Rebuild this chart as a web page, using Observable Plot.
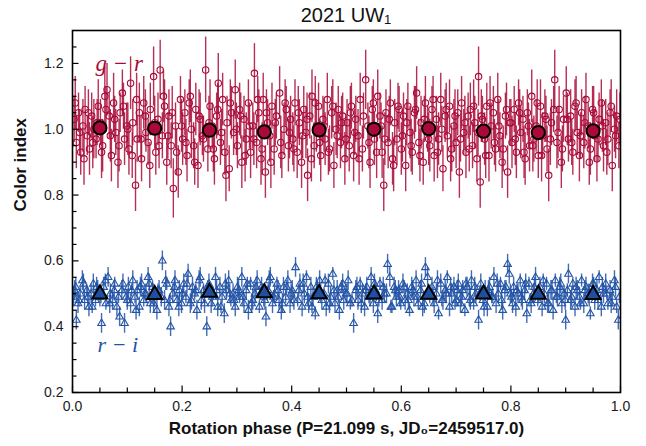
<!DOCTYPE html>
<html>
<head>
<meta charset="utf-8">
<script src="https://cdn.jsdelivr.net/npm/d3@7"></script>
<script src="https://cdn.jsdelivr.net/npm/@observablehq/plot@0.6"></script>
<style>
  html, body { margin: 0; padding: 0; background: #fff; }
  #wrap { position: relative; width: 646px; height: 446px; }
  #wrap svg { position: absolute; left: 0; top: 0; z-index: 0; }
  #title { position: absolute; left: 72px; width: 548px; top: 5px; text-align: center; z-index: 2;
           font-family: "Liberation Sans", Arial, sans-serif; font-size: 20px; line-height: 20px; color: #111; }
  #title sub { font-size: 13px; vertical-align: -2px; line-height: 0; }
</style>
</head>
<body>
<div id="wrap"><div id="title">2021 UW<sub>1</sub></div></div>
<script>
// ---- g − r individual measurements (set 1) ----
const grPhase = [0.003,0.007,0.011,0.015,0.019,0.023,0.027,0.031,0.035,0.039,0.043,0.047,0.051,0.055,0.059,0.063,0.067,0.071,0.075,0.079,0.083,0.087,0.091,0.095,0.099,
0.103,0.106,0.110,0.115,0.118,0.122,0.126,0.130,0.134,0.138,0.142,0.148,0.152,0.156,0.160,0.164,0.168,0.172,0.176,0.180,0.184,0.188,0.193,0.197,
0.201,0.205,0.209,0.213,0.217,0.221,0.225,0.229,0.233,0.237,0.243,0.247,0.251,0.255,0.259,0.263,0.266,0.270,0.274,0.278,0.282,0.286,0.290,0.294,0.297,
0.301,0.305,0.309,0.313,0.317,0.321,0.325,0.329,0.332,0.336,0.340,0.344,0.348,0.352,0.356,0.360,0.364,0.368,0.372,0.378,0.382,0.386,0.390,0.394,0.398,
0.402,0.406,0.410,0.414,0.418,0.422,0.426,0.429,0.433,0.437,0.441,0.445,0.449,0.453,0.457,0.461,0.465,0.469,0.473,0.477,0.481,0.485,0.489,0.493,0.497,
0.501,0.505,0.509,0.513,0.517,0.521,0.525,0.529,0.535,0.539,0.543,0.547,0.551,0.557,0.561,0.565,0.568,0.572,0.576,0.580,0.584,0.588,0.592,0.596,
0.600,0.604,0.608,0.612,0.616,0.620,0.624,0.628,0.632,0.636,0.640,0.644,0.648,0.652,0.656,0.660,0.664,0.668,0.672,0.676,0.680,0.684,0.688,0.692,0.696,
0.700,0.703,0.706,0.710,0.714,0.718,0.722,0.726,0.730,0.734,0.738,0.741,0.744,0.748,0.752,0.756,0.760,0.764,0.768,0.772,0.776,0.780,0.784,0.790,0.794,0.798,
0.802,0.806,0.810,0.814,0.818,0.822,0.826,0.830,0.834,0.838,0.842,0.846,0.850,0.854,0.858,0.862,0.866,0.869,0.874,0.880,0.884,0.888,0.892,0.896,
0.901,0.905,0.909,0.913,0.917,0.921,0.925,0.929,0.933,0.937,0.941,0.945,0.949,0.953,0.957,0.961,0.965,0.969,0.973,0.977,0.981,0.985,0.989,0.993,0.997];
const grValue = [1.03,0.96,1.05,0.93,1.01,1.06,0.98,0.94,1.04,1.00,0.97,1.07,1.02,0.95,1.10,1.12,1.04,0.92,1.08,0.99,0.90,1.05,1.11,0.97,1.01,
0.94,1.14,1.02,0.83,0.97,1.05,0.91,1.08,0.99,0.96,1.06,1.16,0.93,1.03,1.18,0.98,1.07,0.90,1.04,0.95,0.82,1.01,0.87,1.09,
0.97,1.05,0.92,1.08,1.00,0.95,1.06,0.89,1.03,0.98,1.18,0.94,1.07,1.01,0.91,1.04,1.14,0.96,1.09,0.93,1.02,0.88,1.05,0.99,1.12,
0.95,1.06,0.90,1.03,0.97,1.08,0.93,1.01,1.17,0.96,1.05,0.91,1.09,0.87,1.02,0.98,1.07,0.94,1.04,1.11,0.92,1.00,1.06,0.95,1.03,
0.97,1.08,0.93,1.02,0.90,1.06,0.99,0.86,1.04,1.10,0.95,1.01,1.07,0.92,1.03,0.97,1.09,0.94,1.05,0.89,1.00,1.06,0.96,1.04,0.91,
1.02,0.95,1.07,0.92,1.03,0.98,1.09,0.94,1.15,1.01,0.90,1.06,0.97,1.10,1.04,0.93,0.83,1.05,0.96,1.08,0.91,1.02,0.97,1.06,
0.94,1.04,0.89,1.07,0.99,0.93,1.05,1.11,0.96,1.02,0.90,1.08,1.00,0.95,1.06,0.92,1.03,0.97,1.09,0.88,1.04,0.98,1.07,0.94,1.01,
0.96,1.05,0.87,1.08,0.99,0.93,1.04,1.06,0.95,1.02,0.91,1.16,0.84,1.03,0.97,1.07,0.92,1.01,1.05,0.94,1.09,0.98,0.90,1.04,0.87,1.02,
0.96,1.06,0.93,1.08,0.99,1.03,0.91,1.05,0.95,1.10,0.97,1.01,0.92,1.07,0.98,1.04,0.94,0.86,1.02,1.15,0.96,1.06,0.90,1.03,
1.11,0.97,1.04,0.93,1.07,0.99,0.92,1.05,0.96,1.09,1.01,0.94,1.06,0.98,0.91,1.03,1.08,0.95,1.02,0.97,1.05,0.89,1.00,1.04,0.95];
const grError = [.07,.08,.06,.07,.08,.07,.06,.08,.07,.09,.06,.08,.07,.08,.09,.08,.07,.08,.09,.07,.08,.06,.07,.08,.07,
.08,.08,.07,.08,.07,.09,.07,.08,.06,.07,.08,.09,.07,.08,.09,.07,.08,.07,.08,.07,.09,.07,.08,.07,
.08,.07,.08,.07,.09,.07,.08,.07,.08,.06,.10,.07,.08,.07,.08,.07,.09,.07,.08,.07,.08,.07,.08,.07,.09,
.07,.08,.08,.07,.08,.07,.08,.07,.09,.08,.07,.08,.08,.08,.07,.08,.07,.08,.07,.08,.07,.08,.07,.08,.07,
.08,.07,.08,.07,.08,.07,.08,.08,.07,.08,.07,.08,.07,.08,.07,.08,.08,.07,.08,.07,.08,.07,.08,.07,.08,
.07,.08,.07,.08,.07,.08,.08,.07,.09,.07,.08,.07,.08,.08,.07,.08,.08,.07,.08,.07,.08,.07,.08,.07,
.08,.07,.08,.07,.08,.07,.08,.08,.07,.08,.07,.08,.07,.08,.07,.08,.07,.08,.08,.07,.08,.07,.08,.07,.08,
.08,.07,.08,.08,.07,.08,.07,.08,.07,.08,.07,.09,.08,.07,.08,.07,.08,.07,.08,.07,.08,.07,.08,.07,.08,.07,
.08,.07,.08,.07,.08,.07,.08,.07,.08,.08,.07,.08,.07,.08,.07,.08,.07,.08,.07,.09,.08,.07,.08,.07,
.08,.07,.08,.07,.08,.07,.08,.07,.08,.08,.07,.08,.07,.08,.07,.08,.07,.08,.07,.08,.07,.08,.07,.08,.07];

// ---- g − r individual measurements (set 2) ----
const grPhase2 = [0.005,0.013,0.021,0.029,0.037,0.045,0.053,0.061,0.069,0.077,0.085,0.093,
0.101,0.109,0.117,0.125,0.133,0.141,0.150,0.158,0.166,0.174,0.182,0.190,
0.199,0.207,0.215,0.223,0.231,0.239,0.249,0.257,0.265,0.272,0.280,0.288,
0.299,0.307,0.315,0.323,0.331,0.338,0.346,0.354,0.362,0.370,0.380,0.388,0.396,
0.404,0.412,0.420,0.428,0.436,0.443,0.451,0.459,0.467,0.475,0.483,0.491,
0.499,0.507,0.515,0.523,0.531,0.541,0.549,0.555,0.563,0.570,0.578,0.586,0.594,
0.602,0.610,0.618,0.626,0.634,0.642,0.650,0.658,0.666,0.674,0.682,0.690,0.698,
0.708,0.716,0.724,0.732,0.740,0.746,0.754,0.762,0.770,0.778,0.786,0.792,
0.800,0.808,0.816,0.824,0.832,0.840,0.848,0.856,0.864,0.872,0.878,0.886,0.894,
0.903,0.911,0.919,0.927,0.935,0.943,0.951,0.959,0.967,0.975,0.983,0.991,0.999];
const grValue2 = [1.08,0.99,0.91,1.05,0.96,1.02,0.93,1.06,0.98,1.03,0.95,1.07,
1.00,0.92,1.09,0.97,1.04,0.89,1.02,0.95,1.10,0.98,1.05,0.93,
1.01,0.96,1.10,0.90,1.04,0.97,1.02,0.94,1.06,0.99,0.86,1.08,
1.00,1.04,0.92,1.01,0.97,1.09,0.94,1.05,0.90,1.02,0.96,1.08,0.99,
0.94,1.05,0.98,1.03,0.91,1.08,0.96,1.01,0.93,1.07,0.98,1.02,
0.97,1.05,0.99,0.91,1.04,0.96,1.08,0.93,1.01,0.97,1.03,0.89,1.07,
0.98,1.02,0.95,1.06,0.92,1.03,0.97,1.09,0.93,1.00,1.06,0.91,1.04,
0.97,1.02,0.94,1.07,0.99,1.04,0.92,1.08,0.96,1.01,0.94,1.06,
1.02,0.97,1.05,0.93,1.01,0.95,1.08,0.92,1.03,0.97,1.06,0.99,0.94,
1.03,0.96,1.08,0.98,1.02,0.90,1.05,0.97,1.01,0.93,1.07,0.98,1.03];
const grError2 = [.08,.07,.08,.07,.08,.07,.08,.07,.08,.07,.08,.07,
.08,.07,.08,.07,.08,.07,.08,.07,.08,.07,.08,.07,
.08,.07,.08,.07,.08,.07,.08,.07,.08,.07,.08,.07,
.08,.07,.08,.07,.08,.07,.08,.07,.08,.07,.08,.07,.08,
.07,.08,.07,.08,.07,.08,.07,.08,.07,.08,.07,.08,
.07,.08,.07,.08,.07,.08,.07,.08,.07,.08,.07,.08,.07,
.08,.07,.08,.07,.08,.07,.08,.07,.08,.07,.08,.07,.08,
.07,.08,.07,.08,.07,.08,.07,.08,.07,.08,.07,.08,
.07,.08,.07,.08,.07,.08,.07,.08,.07,.08,.07,.08,.07,
.08,.07,.08,.07,.08,.07,.08,.07,.08,.07,.08,.07,.08];

// ---- r − i individual measurements (set 1) ----
const riPhase = [0.002,0.006,0.010,0.007,0.014,0.018,0.022,0.026,0.030,0.034,0.038,0.042,0.046,0.050,0.053,0.057,0.061,0.065,0.069,0.073,0.077,0.081,0.086,0.090,0.095,0.098,
0.102,0.106,0.110,0.114,0.118,0.122,0.126,0.130,0.134,0.138,0.142,0.146,0.150,0.154,0.158,0.164,0.168,0.172,0.176,0.179,0.183,0.187,0.191,0.195,0.199,
0.203,0.207,0.211,0.215,0.219,0.223,0.227,0.231,0.235,0.239,0.245,0.249,0.253,0.257,0.261,0.265,0.269,0.273,0.277,0.281,0.285,0.289,0.293,0.297,
0.301,0.305,0.309,0.313,0.317,0.321,0.325,0.329,0.333,0.337,0.341,0.345,0.349,0.353,0.357,0.361,0.365,0.369,0.373,0.377,0.381,0.385,0.389,0.393,0.397,
0.401,0.407,0.411,0.415,0.419,0.423,0.427,0.431,0.435,0.439,0.443,0.447,0.451,0.455,0.459,0.463,0.467,0.471,0.475,0.479,0.483,0.487,0.491,0.495,0.499,
0.503,0.507,0.513,0.517,0.521,0.525,0.529,0.533,0.537,0.541,0.545,0.549,0.553,0.557,0.561,0.565,0.569,0.575,0.579,0.583,0.587,0.591,0.595,0.599,
0.603,0.607,0.611,0.615,0.619,0.623,0.627,0.631,0.635,0.639,0.644,0.648,0.652,0.656,0.660,0.664,0.668,0.672,0.676,0.680,0.684,0.688,0.692,0.696,
0.700,0.704,0.708,0.712,0.716,0.720,0.724,0.728,0.732,0.736,0.741,0.745,0.749,0.753,0.757,0.761,0.765,0.769,0.773,0.777,0.781,0.785,0.789,0.794,0.797,
0.801,0.805,0.809,0.813,0.817,0.821,0.825,0.829,0.833,0.837,0.841,0.845,0.849,0.853,0.857,0.861,0.865,0.869,0.873,0.877,0.881,0.885,0.889,0.893,0.897,
0.900,0.905,0.909,0.913,0.917,0.921,0.925,0.929,0.933,0.937,0.941,0.945,0.949,0.953,0.957,0.961,0.965,0.969,0.973,0.977,0.981,0.985,0.989,0.993,0.996];
const riValue = [0.49,0.52,0.47,0.42,0.50,0.54,0.48,0.51,0.46,0.50,0.53,0.48,0.51,0.49,0.41,0.52,0.47,0.55,0.50,0.48,0.53,0.46,0.43,0.51,0.41,0.49,
0.52,0.47,0.54,0.49,0.51,0.46,0.53,0.48,0.50,0.55,0.47,0.52,0.49,0.45,0.51,0.60,0.48,0.53,0.46,0.40,0.50,0.54,0.48,0.51,0.47,
0.53,0.49,0.56,0.47,0.52,0.50,0.45,0.54,0.48,0.51,0.40,0.53,0.47,0.50,0.55,0.46,0.52,0.49,0.44,0.51,0.54,0.48,0.50,0.46,
0.52,0.49,0.55,0.47,0.51,0.45,0.53,0.48,0.50,0.54,0.46,0.52,0.49,0.43,0.51,0.55,0.47,0.50,0.53,0.48,0.45,0.52,0.49,0.54,0.47,
0.51,0.58,0.48,0.53,0.46,0.50,0.55,0.47,0.52,0.49,0.44,0.51,0.54,0.48,0.50,0.46,0.53,0.49,0.56,0.47,0.51,0.45,0.52,0.48,0.50,
0.54,0.47,0.41,0.51,0.48,0.53,0.50,0.46,0.52,0.49,0.55,0.47,0.51,0.44,0.53,0.48,0.50,0.59,0.55,0.46,0.52,0.49,0.51,0.47,
0.53,0.48,0.50,0.45,0.52,0.49,0.54,0.47,0.51,0.46,0.58,0.55,0.49,0.52,0.47,0.50,0.44,0.53,0.48,0.51,0.55,0.46,0.50,0.52,
0.48,0.53,0.47,0.51,0.45,0.52,0.49,0.54,0.47,0.50,0.42,0.53,0.48,0.51,0.46,0.52,0.49,0.55,0.47,0.50,0.53,0.45,0.51,0.59,0.56,
0.49,0.52,0.46,0.50,0.54,0.48,0.51,0.44,0.53,0.47,0.50,0.55,0.48,0.52,0.46,0.50,0.53,0.47,0.51,0.45,0.54,0.49,0.52,0.47,0.50,
0.42,0.56,0.48,0.53,0.46,0.51,0.49,0.54,0.47,0.52,0.50,0.44,0.53,0.48,0.51,0.55,0.46,0.50,0.53,0.47,0.51,0.49,0.54,0.46,0.42];
const riError = [.03,.03,.03,.03,.02,.03,.03,.02,.03,.03,.03,.02,.03,.03,.03,.03,.02,.03,.03,.03,.02,.03,.03,.03,.03,.02,
.03,.03,.03,.02,.03,.03,.03,.02,.03,.03,.03,.02,.03,.03,.03,.03,.03,.02,.03,.03,.03,.03,.02,.03,.03,
.03,.02,.03,.03,.03,.02,.03,.03,.03,.02,.03,.03,.03,.02,.03,.03,.03,.02,.03,.03,.03,.02,.03,.03,
.03,.02,.03,.03,.03,.03,.02,.03,.03,.03,.02,.03,.03,.03,.02,.03,.03,.03,.02,.03,.03,.03,.02,.03,.03,
.03,.03,.02,.03,.03,.03,.02,.03,.03,.03,.02,.03,.03,.03,.02,.03,.03,.03,.02,.03,.03,.03,.02,.03,.03,
.03,.02,.03,.03,.03,.02,.03,.03,.03,.02,.03,.03,.03,.03,.02,.03,.03,.03,.03,.02,.03,.03,.03,.02,
.03,.03,.03,.02,.03,.03,.03,.02,.03,.03,.03,.03,.02,.03,.03,.03,.02,.03,.03,.03,.02,.03,.03,.03,
.02,.03,.03,.03,.02,.03,.03,.03,.02,.03,.03,.03,.02,.03,.03,.03,.02,.03,.03,.03,.02,.03,.03,.03,.03,
.02,.03,.03,.03,.02,.03,.03,.03,.02,.03,.03,.03,.02,.03,.03,.03,.02,.03,.03,.03,.02,.03,.03,.03,.02,
.03,.03,.03,.02,.03,.03,.03,.02,.03,.03,.03,.02,.03,.03,.03,.02,.03,.03,.03,.02,.03,.03,.03,.02,.03];

// ---- r − i individual measurements (set 2) ----
const riPhase2 = [0.004,0.012,0.020,0.028,0.036,0.044,0.052,0.060,0.068,0.076,0.084,0.092,
0.100,0.108,0.116,0.124,0.132,0.140,0.148,0.156,0.162,0.170,0.178,0.186,0.194,
0.201,0.209,0.217,0.225,0.233,0.241,0.247,0.255,0.263,0.271,0.279,0.287,0.295,
0.303,0.311,0.319,0.327,0.335,0.343,0.351,0.359,0.367,0.375,0.383,0.391,0.399,
0.404,0.413,0.421,0.429,0.437,0.445,0.453,0.461,0.469,0.477,0.485,0.493,
0.501,0.510,0.519,0.527,0.535,0.543,0.551,0.559,0.567,0.573,0.581,0.589,0.597,
0.605,0.613,0.621,0.629,0.637,0.642,0.650,0.658,0.666,0.674,0.682,0.690,0.698,
0.702,0.710,0.718,0.726,0.734,0.743,0.751,0.759,0.767,0.775,0.783,0.791,0.799,
0.803,0.811,0.819,0.827,0.835,0.843,0.851,0.859,0.867,0.875,0.883,0.891,0.899,
0.903,0.911,0.919,0.927,0.935,0.943,0.951,0.959,0.967,0.975,0.983,0.991,0.998];
const riValue2 = [0.51,0.48,0.53,0.49,0.46,0.52,0.50,0.54,0.47,0.51,0.49,0.53,
0.48,0.51,0.45,0.52,0.50,0.53,0.47,0.51,0.49,0.54,0.48,0.52,0.46,
0.50,0.53,0.48,0.51,0.55,0.47,0.52,0.49,0.51,0.46,0.53,0.50,0.48,
0.51,0.49,0.53,0.47,0.52,0.50,0.48,0.54,0.49,0.51,0.47,0.52,0.50,
0.48,0.51,0.53,0.49,0.46,0.52,0.50,0.54,0.47,0.51,0.49,0.53,
0.50,0.48,0.52,0.47,0.51,0.49,0.53,0.48,0.52,0.50,0.46,0.51,0.49,
0.52,0.48,0.51,0.49,0.53,0.47,0.51,0.49,0.54,0.48,0.50,0.52,0.47,
0.51,0.49,0.53,0.48,0.52,0.50,0.46,0.51,0.49,0.53,0.48,0.52,0.50,
0.47,0.51,0.49,0.53,0.48,0.52,0.50,0.54,0.47,0.51,0.49,0.53,0.48,
0.51,0.49,0.52,0.47,0.51,0.49,0.53,0.48,0.52,0.50,0.47,0.52,0.49];
const riError2 = [.03,.02,.03,.03,.02,.03,.03,.02,.03,.03,.02,.03,
.03,.02,.03,.03,.02,.03,.03,.02,.03,.03,.02,.03,.03,
.02,.03,.03,.02,.03,.03,.02,.03,.03,.02,.03,.03,.02,
.03,.03,.02,.03,.03,.02,.03,.03,.02,.03,.03,.02,.03,
.03,.02,.03,.03,.02,.03,.03,.02,.03,.03,.02,.03,
.03,.02,.03,.03,.02,.03,.03,.02,.03,.03,.02,.03,.03,
.02,.03,.03,.02,.03,.03,.02,.03,.03,.02,.03,.03,.02,
.03,.03,.02,.03,.03,.02,.03,.03,.02,.03,.03,.02,.03,
.03,.02,.03,.03,.02,.03,.03,.02,.03,.03,.02,.03,.03,
.02,.03,.03,.02,.03,.03,.02,.03,.03,.02,.03,.03,.02];

// ---- binned means ----
const binPhase = [0.05,0.15,0.25,0.35,0.45,0.55,0.65,0.75,0.85,0.95];
const grBinMean = [1.004,1.003,0.997,0.992,0.998,1.000,1.002,0.994,0.990,0.995];
const riBinMean = [0.499,0.497,0.504,0.503,0.500,0.499,0.498,0.499,0.498,0.497];

// ---- axes / text ----
const xMajorTicks = [0.0,0.2,0.4,0.6,0.8,1.0];
const xMinorTicks = [0.05,0.1,0.15,0.25,0.3,0.35,0.45,0.5,0.55,0.65,0.7,0.75,0.85,0.9,0.95];
const yMajorTicks = [0.2,0.4,0.6,0.8,1.0,1.2];
const yMinorTicks = [0.25,0.3,0.35,0.45,0.5,0.55,0.65,0.7,0.75,0.85,0.9,0.95,1.05,1.1,1.15,1.25];
const xLabel = ["Rotation phase (P=21.099 s, JD\u2080=2459517.0)"];
const yLabel = ["Color index"];
const grName = ["g \u2212 r"];
const riName = ["r \u2212 i"];

const mk = (P, V, E) => P.map((p, i) => ({phase: p, v: V[i], e: E[i]}));
const gr = mk(grPhase, grValue, grError).concat(mk(grPhase2, grValue2, grError2));
const ri = mk(riPhase, riValue, riError).concat(mk(riPhase2, riValue2, riError2));
const grBins = binPhase.map((p, i) => ({phase: p, v: grBinMean[i]}));
const riBins = binPhase.map((p, i) => ({phase: p, v: riBinMean[i]}));

const RED = "#a90a38", BLUE = "#2253a6", BLUEFILL = "#1f50a0";
const W = 646, H = 446, ML = 72, MR = 26, MT = 30, MB = 54;
const PW = W - ML - MR, PH = H - MT - MB;

const chart = Plot.plot({
  width: W, height: H,
  marginLeft: ML, marginRight: MR, marginTop: MT, marginBottom: MB,
  style: {fontFamily: "'Liberation Sans', Arial, sans-serif", fontSize: "14px", color: "#1a1a1a", background: "white"},
  x: {domain: [0, 1]},
  y: {domain: [0.2, 1.3]},
  marks: [
    Plot.ruleX(gr, {x: "phase", y1: d => d.v - d.e, y2: d => d.v + d.e, stroke: RED, strokeOpacity: 0.85, strokeWidth: 1.4, clip: true}),
    Plot.dot(gr, {x: "phase", y: "v", r: 3.2, stroke: RED, strokeWidth: 1.1, fill: "none", clip: true}),
    Plot.ruleX(ri, {x: "phase", y1: d => d.v - d.e, y2: d => d.v + d.e, stroke: BLUE, strokeOpacity: 0.85, strokeWidth: 1.4, clip: true}),
    Plot.dot(ri, {x: "phase", y: "v", r: 2.8, symbol: "triangle", stroke: BLUE, strokeWidth: 1.1, fill: "none", clip: true}),
    Plot.dot(grBins, {x: "phase", y: "v", r: 6.6, fill: RED, stroke: "black", strokeWidth: 2}),
    Plot.dot(riBins, {x: "phase", y: "v", r: 5.6, symbol: "triangle", fill: BLUEFILL, stroke: "black", strokeWidth: 2}),
    Plot.text(grName, {frameAnchor: "top-left", dx: 23, dy: 24, textAnchor: "start", fill: RED,
      fontFamily: "'Liberation Serif', 'Times New Roman', serif", fontStyle: "italic", fontSize: 23}),
    Plot.text(riName, {frameAnchor: "bottom-left", dx: 25, dy: -41, textAnchor: "start", fill: BLUE,
      fontFamily: "'Liberation Serif', 'Times New Roman', serif", fontStyle: "italic", fontSize: 22}),
    Plot.tickY(yMajorTicks, {y: d => d, insetRight: PW - 6.5, stroke: "black", strokeWidth: 1.2}),
    Plot.tickY(yMinorTicks, {y: d => d, insetRight: PW - 4.5, stroke: "black", strokeWidth: 1.2}),
    Plot.tickX(xMajorTicks, {x: d => d, insetTop: PH - 6.5, stroke: "black", strokeWidth: 1.2}),
    Plot.tickX(xMinorTicks, {x: d => d, insetTop: PH - 4.5, stroke: "black", strokeWidth: 1.2}),
    Plot.frame({stroke: "black", strokeWidth: 1.6}),
    Plot.axisY(yMajorTicks, {tickSize: 0, tickPadding: 9, tickFormat: d3.format(".1f"), fontSize: 14, label: null}),
    Plot.axisX(xMajorTicks, {tickSize: 0, tickPadding: 9, tickFormat: d3.format(".1f"), fontSize: 14, label: null}),
    Plot.text(yLabel, {frameAnchor: "left", dx: -52, rotate: -90, fontWeight: "bold", fontSize: 17, fill: "#111"}),
    Plot.text(xLabel, {frameAnchor: "bottom", dy: 41, fontWeight: "bold", fontSize: 17, fill: "#111"})
  ]
});
document.getElementById("wrap").insertBefore(chart, document.getElementById("title"));
</script>
</body>
</html>
